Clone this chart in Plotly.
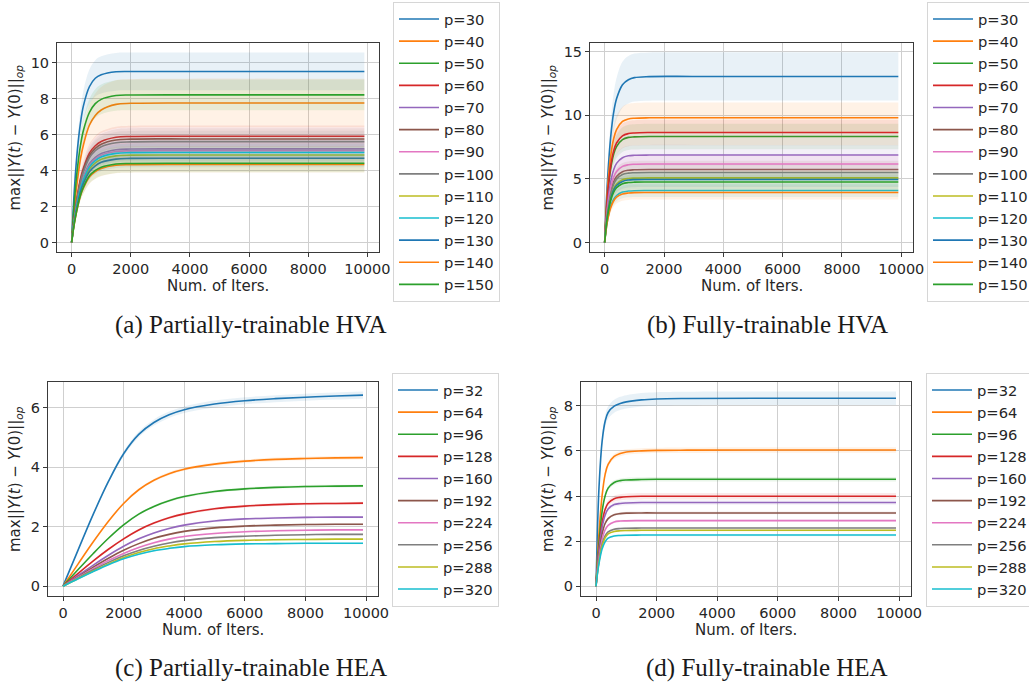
import plotly.graph_objects as go

COLORS = ['#1f77b4', '#ff7f0e', '#2ca02c', '#d62728', '#9467bd',
          '#8c564b', '#e377c2', '#7f7f7f', '#bcbd22', '#17becf']

# ---------------- (a) Partially-trainable HVA ----------------
A_P = [30, 40, 50, 60, 70, 80, 90, 100, 110, 120, 130, 140, 150]
A_X = [0, 50, 100, 200, 300, 400, 600, 800, 1000, 1500, 2000, 4000, 7000, 9900]
A_MEAN = [
    [0, 1.71, 3.14, 5.23, 6.65, 7.60, 8.65, 9.12, 9.31, 9.48, 9.50, 9.50, 9.50, 9.50],
    [0, 1.09, 2.02, 3.49, 4.65, 5.43, 6.51, 7.05, 7.36, 7.67, 7.73, 7.75, 7.75, 7.75],
    [0, 1.31, 2.46, 4.18, 5.41, 6.23, 7.22, 7.71, 7.95, 8.16, 8.19, 8.20, 8.20, 8.20],
    [0, 0.83, 1.53, 2.66, 3.54, 4.13, 4.96, 5.37, 5.61, 5.84, 5.89, 5.90, 5.90, 5.90],
    [0, 0.73, 1.35, 2.34, 3.12, 3.64, 4.37, 4.73, 4.94, 5.15, 5.19, 5.20, 5.20, 5.20],
    [0, 0.81, 1.50, 2.59, 3.45, 4.03, 4.83, 5.23, 5.46, 5.69, 5.74, 5.75, 5.75, 5.75],
    [0, 0.71, 1.33, 2.30, 3.06, 3.57, 4.28, 4.64, 4.85, 5.05, 5.09, 5.10, 5.10, 5.10],
    [0, 0.78, 1.46, 2.52, 3.36, 3.92, 4.70, 5.10, 5.32, 5.54, 5.59, 5.60, 5.60, 5.60],
    [0, 0.68, 1.26, 2.19, 2.92, 3.40, 4.08, 4.42, 4.62, 4.81, 4.85, 4.86, 4.86, 4.86],
    [0, 0.70, 1.30, 2.25, 3.00, 3.50, 4.20, 4.55, 4.75, 4.95, 4.99, 5.00, 5.00, 5.00],
    [0, 0.66, 1.22, 2.11, 2.81, 3.28, 3.93, 4.26, 4.45, 4.63, 4.67, 4.68, 4.68, 4.68],
    [0, 0.61, 1.13, 1.95, 2.60, 3.03, 3.64, 3.94, 4.11, 4.29, 4.32, 4.33, 4.33, 4.33],
    [0, 0.62, 1.14, 1.98, 2.64, 3.08, 3.70, 4.00, 4.18, 4.36, 4.39, 4.40, 4.40, 4.40],
]
A_STD = [1.05, 1.35, 0.85, 0.60, 0.55, 0.60, 0.55, 0.60, 0.50, 0.50, 0.50, 0.45, 0.50]

# ---------------- (b) Fully-trainable HVA ----------------
B_P = [30, 40, 50, 60, 70, 80, 90, 100, 110, 120, 130, 140, 150]
B_X = [0, 50, 100, 200, 300, 400, 600, 800, 1000, 1500, 3000, 6000, 9900]
B_MEAN = [
    [0, 2.87, 5.09, 8.22, 10.18, 11.29, 12.40, 12.79, 12.96, 13.04, 13.05, 13.05, 13.05],
    [0, 2.50, 4.36, 6.76, 8.13, 8.87, 9.51, 9.71, 9.77, 9.80, 9.80, 9.80, 9.80],
    [0, 2.12, 3.71, 5.75, 6.91, 7.54, 8.08, 8.26, 8.30, 8.33, 8.33, 8.33, 8.33],
    [0, 2.20, 3.84, 5.96, 7.17, 7.82, 8.38, 8.56, 8.61, 8.64, 8.64, 8.64, 8.64],
    [0, 1.75, 3.06, 4.74, 5.70, 6.22, 6.66, 6.81, 6.85, 6.87, 6.87, 6.87, 6.87],
    [0, 1.46, 2.55, 3.95, 4.76, 5.19, 5.56, 5.68, 5.71, 5.73, 5.73, 5.73, 5.73],
    [0, 1.57, 2.75, 4.26, 5.12, 5.58, 5.98, 6.11, 6.15, 6.17, 6.17, 6.17, 6.17],
    [0, 1.40, 2.45, 3.80, 4.57, 4.98, 5.34, 5.45, 5.48, 5.50, 5.50, 5.50, 5.50],
    [0, 1.30, 2.26, 3.51, 4.22, 4.60, 4.93, 5.03, 5.06, 5.08, 5.08, 5.08, 5.08],
    [0, 1.04, 1.82, 2.82, 3.39, 3.69, 3.96, 4.04, 4.07, 4.08, 4.08, 4.08, 4.08],
    [0, 1.26, 2.20, 3.42, 4.11, 4.48, 4.80, 4.91, 4.94, 4.95, 4.95, 4.95, 4.95],
    [0, 1.00, 1.75, 2.71, 3.26, 3.56, 3.81, 3.89, 3.92, 3.93, 3.93, 3.93, 3.93],
    [0, 1.21, 2.11, 3.28, 3.94, 4.30, 4.61, 4.71, 4.74, 4.75, 4.75, 4.75, 4.75],
]
B_STD = [1.9, 1.2, 1.0, 1.0, 0.8, 0.7, 0.7, 0.6, 0.6, 0.5, 0.6, 0.55, 0.6]

# ---------------- (c) Partially-trainable HEA ----------------
C_P = [32, 64, 96, 128, 160, 192, 224, 256, 288, 320]
C_X = [0, 500, 1000, 1500, 2000, 2500, 3000, 3500, 4000, 5000, 6000, 7000, 8000, 9000, 9900]
C_MEAN = [
    [0, 1.22, 2.42, 3.52, 4.45, 5.10, 5.50, 5.76, 5.93, 6.12, 6.23, 6.30, 6.35, 6.39, 6.42],
    [0, 0.75, 1.49, 2.18, 2.78, 3.24, 3.56, 3.78, 3.93, 4.10, 4.20, 4.26, 4.29, 4.31, 4.32],
    [0, 0.56, 1.10, 1.61, 2.06, 2.42, 2.68, 2.87, 3.01, 3.18, 3.27, 3.32, 3.35, 3.36, 3.37],
    [0, 0.43, 0.85, 1.24, 1.59, 1.89, 2.12, 2.30, 2.43, 2.60, 2.69, 2.74, 2.77, 2.78, 2.79],
    [0, 0.36, 0.71, 1.04, 1.34, 1.59, 1.79, 1.94, 2.05, 2.19, 2.26, 2.29, 2.31, 2.32, 2.32],
    [0, 0.32, 0.64, 0.94, 1.21, 1.43, 1.61, 1.74, 1.84, 1.96, 2.02, 2.05, 2.07, 2.08, 2.08],
    [0, 0.30, 0.59, 0.86, 1.10, 1.30, 1.46, 1.58, 1.67, 1.77, 1.83, 1.86, 1.88, 1.89, 1.89],
    [0, 0.28, 0.55, 0.80, 1.02, 1.20, 1.34, 1.45, 1.53, 1.63, 1.68, 1.71, 1.73, 1.74, 1.74],
    [0, 0.26, 0.51, 0.75, 0.96, 1.13, 1.26, 1.35, 1.42, 1.50, 1.54, 1.56, 1.57, 1.58, 1.58],
    [0, 0.25, 0.49, 0.72, 0.92, 1.07, 1.19, 1.27, 1.33, 1.39, 1.42, 1.43, 1.44, 1.44, 1.44],
]
C_STD = [0.12, 0.06, 0.05, 0.05, 0.04, 0.04, 0.04, 0.03, 0.03, 0.03]

# ---------------- (d) Fully-trainable HEA ----------------
D_P = [32, 64, 96, 128, 160, 192, 224, 256, 288, 320]
D_X = [0, 50, 100, 200, 300, 400, 600, 800, 1000, 1500, 2000, 3000, 6000, 9900]
D_MEAN = [
    [0, 2.60, 4.40, 6.40, 7.30, 7.70, 7.98, 8.10, 8.17, 8.26, 8.30, 8.32, 8.33, 8.33],
    [0, 1.30, 2.40, 4.00, 4.95, 5.40, 5.75, 5.88, 5.95, 6.00, 6.02, 6.03, 6.04, 6.04],
    [0, 1.10, 1.95, 3.30, 4.00, 4.35, 4.60, 4.68, 4.71, 4.73, 4.74, 4.74, 4.74, 4.74],
    [0, 0.95, 1.70, 2.80, 3.40, 3.68, 3.88, 3.94, 3.97, 3.99, 3.99, 3.99, 3.99, 3.99],
    [0, 0.90, 1.60, 2.60, 3.15, 3.42, 3.62, 3.67, 3.69, 3.71, 3.71, 3.71, 3.71, 3.71],
    [0, 0.80, 1.42, 2.30, 2.78, 3.00, 3.17, 3.22, 3.24, 3.25, 3.25, 3.25, 3.25, 3.25],
    [0, 0.72, 1.28, 2.07, 2.50, 2.70, 2.85, 2.89, 2.90, 2.91, 2.91, 2.91, 2.91, 2.91],
    [0, 0.65, 1.15, 1.85, 2.23, 2.41, 2.53, 2.56, 2.57, 2.58, 2.58, 2.58, 2.58, 2.58],
    [0, 0.63, 1.10, 1.78, 2.14, 2.32, 2.43, 2.46, 2.47, 2.48, 2.48, 2.48, 2.48, 2.48],
    [0, 0.58, 1.02, 1.65, 1.97, 2.13, 2.23, 2.25, 2.26, 2.27, 2.27, 2.27, 2.27, 2.27],
]
D_STD = [0.30, 0.12, 0.10, 0.14, 0.10, 0.06, 0.05, 0.05, 0.05, 0.05]

X_TICKS = [0, 2000, 4000, 6000, 8000, 10000]
Y_TICKS = [[0, 2, 4, 6, 8, 10], [0, 5, 10, 15], [0, 2, 4, 6], [0, 2, 4, 6, 8]]
CAPTIONS = ["(a) Partially-trainable HVA", "(b) Fully-trainable HVA",
            "(c) Partially-trainable HEA", "(d) Fully-trainable HEA"]

W, H = 1029, 683


def rgba(hexc, a):
    h = hexc.lstrip('#')
    return 'rgba(%d,%d,%d,%s)' % (int(h[0:2], 16), int(h[2:4], 16), int(h[4:6], 16), a)


def fx(px):
    return px / W


def fy(py):
    return 1 - py / H


# panel geometry (pixels): box x0, x1, top, bottom; y-range; legend left/top; y-title x; caption center
PANELS = [
    dict(P=A_P, X=A_X, M=A_MEAN, S=A_STD, box=(57, 379, 43, 252), yr=(-0.53, 11.08),
         leg=(393, 2), ytx=15, cap=(251, 325)),
    dict(P=B_P, X=B_X, M=B_MEAN, S=B_STD, box=(590, 913, 43, 252), yr=(-0.75, 15.68),
         leg=(927, 2), ytx=548, cap=(767, 325)),
    dict(P=C_P, X=C_X, M=C_MEAN, S=C_STD, box=(48, 378, 382, 596), yr=(-0.33, 6.86),
         leg=(392, 373), ytx=15, cap=(251, 668)),
    dict(P=D_P, X=D_X, M=D_MEAN, S=D_STD, box=(581, 911, 382, 596), yr=(-0.43, 9.05),
         leg=(926, 373), ytx=548, cap=(767, 668)),
]

fig = go.Figure()
layout = dict(width=W, height=H, margin=dict(l=0, r=0, t=0, b=0, autoexpand=False),
              paper_bgcolor='white', plot_bgcolor='white',
              font=dict(family='DejaVu Sans', size=14, color='#262626'),
              annotations=[], showlegend=True)

for i, pan in enumerate(PANELS):
    k = '' if i == 0 else str(i + 1)
    xa, ya = 'x' + k, 'y' + k
    legname = 'legend' + k
    for j, p in enumerate(pan['P']):
        col = COLORS[j % 10]
        mean = pan['M'][j]
        final = mean[-1]
        sd = [pan['S'][j] * v / final for v in mean]
        lo = [m - s for m, s in zip(mean, sd)]
        hi = [m + s for m, s in zip(mean, sd)]
        fig.add_trace(go.Scatter(x=pan['X'], y=lo, xaxis=xa, yaxis=ya, mode='lines',
                                 line=dict(width=0, shape='spline', color=col),
                                 showlegend=False, hoverinfo='skip'))
        fig.add_trace(go.Scatter(x=pan['X'], y=hi, xaxis=xa, yaxis=ya, mode='lines',
                                 line=dict(width=0, shape='spline', color=col),
                                 fill='tonexty', fillcolor=rgba(col, 0.1),
                                 showlegend=False, hoverinfo='skip'))
        fig.add_trace(go.Scatter(x=pan['X'], y=mean, xaxis=xa, yaxis=ya, mode='lines',
                                 line=dict(width=1.6, shape='spline', color=col),
                                 name='p=%d' % p, legend=legname))
    x0, x1, y0, y1 = pan['box']
    axcommon = dict(showline=True, mirror=True, linecolor='#3a3a3a', linewidth=1,
                    ticks='outside', ticklen=4, tickcolor='#3a3a3a',
                    showgrid=True, gridcolor='#cfcfcf', gridwidth=1, zeroline=False,
                    tickfont=dict(size=14.5, family='DejaVu Sans', color='#262626'))
    layout['xaxis' + k] = dict(domain=[fx(x0), fx(x1)], anchor=ya, range=[-495, 10395],
                               tickvals=X_TICKS, ticktext=[str(t) for t in X_TICKS], **axcommon)
    layout['yaxis' + k] = dict(domain=[fy(y1), fy(y0)], anchor=xa, range=list(pan['yr']),
                               tickvals=Y_TICKS[i], ticktext=[str(t) for t in Y_TICKS[i]], **axcommon)
    lx, ly = pan['leg']
    layout[legname] = dict(x=fx(lx), y=fy(ly), xanchor='left', yanchor='top',
                           traceorder='normal',
                           bgcolor='white', bordercolor='#d6d6d6', borderwidth=1,
                           font=dict(size=14.7, family='DejaVu Sans', color='#262626'),
                           tracegroupgap=0, itemwidth=40)
    # axis titles
    layout['annotations'].append(dict(
        text='Num. of Iters.', xref='paper', yref='paper', x=fx((x0 + x1) / 2), y=fy(y1 + 34),
        xanchor='center', yanchor='middle', showarrow=False,
        font=dict(size=15, family='DejaVu Sans', color='#262626')))
    layout['annotations'].append(dict(
        text='max||<i>Y</i>(<i>t</i>) \u2212 <i>Y</i>(0)||<sub><i>op</i></sub>',
        xref='paper', yref='paper', x=fx(pan['ytx']), y=fy((y0 + y1) / 2 - 10),
        xanchor='center', yanchor='middle', textangle=-90, showarrow=False,
        font=dict(size=15, family='DejaVu Sans', color='#262626')))
    # caption
    cx, cy = pan['cap']
    layout['annotations'].append(dict(
        text=CAPTIONS[i], xref='paper', yref='paper', x=fx(cx), y=fy(cy),
        xanchor='center', yanchor='middle', showarrow=False,
        font=dict(size=25, family='Liberation Serif', color='#1a1a1a')))

fig.update_layout(**layout)
fig.write_html('out.html')
